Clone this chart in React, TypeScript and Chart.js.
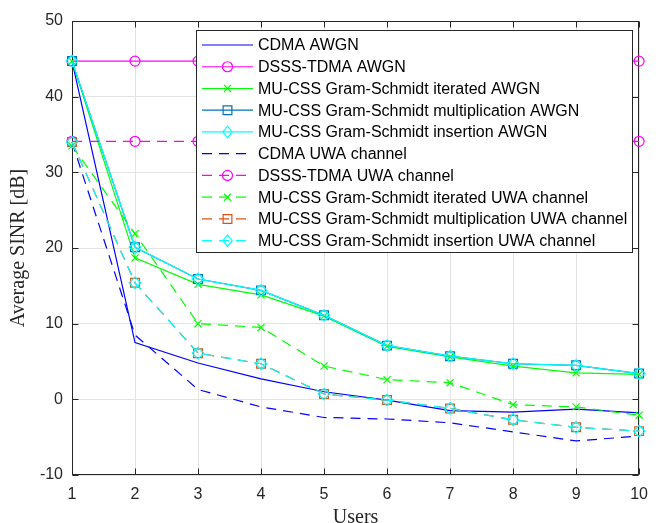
import React, { useEffect, useRef } from 'react';
import { Chart, registerables } from 'chart.js';

Chart.register(...registerables);

// ---- data ----
const users = ['1', '2', '3', '4', '5', '6', '7', '8', '9', '10'];
const yMin = -10;
const yMax = 50;
const yStep = 10;

const cdmaAwgn = [44.7, 7.5, 4.8, 2.7, 1.0, -0.1, -1.5, -1.7, -1.3, -1.8];
const dsssAwgn = [44.7, 44.7, 44.7, 44.7, 44.7, 44.7, 44.7, 44.7, 44.7, 44.7];
const gsIterAwgn = [44.7, 18.7, 15.2, 13.8, 11.0, 7.0, 5.6, 4.4, 3.5, 3.3];
const gsMultAwgn = [44.7, 20.1, 15.9, 14.4, 11.1, 7.1, 5.7, 4.7, 4.5, 3.4];
const gsInsAwgn = [44.7, 20.1, 15.9, 14.4, 11.1, 7.1, 5.7, 4.7, 4.5, 3.4];
const cdmaUwa = [34.0, 8.5, 1.3, -1.0, -2.4, -2.6, -3.1, -4.3, -5.5, -4.85];
const dsssUwa = [34.1, 34.1, 34.1, 34.1, 34.1, 34.1, 34.1, 34.1, 34.1, 34.1];
const gsIterUwa = [33.5, 21.9, 10.0, 9.5, 4.4, 2.6, 2.2, -0.7, -1.0, -2.1];
const gsMultUwa = [34.0, 15.4, 6.1, 4.7, 0.7, -0.1, -1.2, -2.7, -3.7, -4.2];
const gsInsUwa = [34.0, 15.4, 6.1, 4.7, 0.7, -0.1, -1.2, -2.7, -3.7, -4.2];

const seriesNames = [
  'CDMA AWGN',
  'DSSS-TDMA AWGN',
  'MU-CSS Gram-Schmidt iterated AWGN',
  'MU-CSS Gram-Schmidt multiplication AWGN',
  'MU-CSS Gram-Schmidt insertion AWGN',
  'CDMA UWA channel',
  'DSSS-TDMA UWA channel',
  'MU-CSS Gram-Schmidt iterated UWA channel',
  'MU-CSS Gram-Schmidt multiplication UWA channel',
  'MU-CSS Gram-Schmidt insertion UWA channel',
];
const seriesValues = [
  cdmaAwgn, dsssAwgn, gsIterAwgn, gsMultAwgn, gsInsAwgn,
  cdmaUwa, dsssUwa, gsIterUwa, gsMultUwa, gsInsUwa,
];
const seriesColors = [
  '#0000FF', '#FF00FF', '#00FF00', '#0072BD', '#00FFFF',
  '#0000FF', '#FF00FF', '#00FF00', '#D95319', '#00FFFF',
];
const seriesMarkers = [
  'none', 'circle', 'crossRot', 'rect', 'rectRot',
  'none', 'circle', 'crossRot', 'rect', 'rectRot',
];
const seriesDashed = [false, false, false, false, false, true, true, true, true, true];

// ---- style ----
const AXIS_COLOR = '#262626';
const GRID_COLOR = '#e3e3e3';
const SANS = '"Liberation Sans", Arial, Helvetica, sans-serif';
const SERIF = '"Liberation Serif", "Times New Roman", serif';
const DASH = [10, 7];
const LINE_W = 1.2;

const markerRadius = (m: string) =>
  m === 'circle' ? 5 : m === 'rect' ? 6.2 : m === 'rectRot' ? 5.8 : m === 'crossRot' ? 5 : 0;

function drawMarker(ctx: CanvasRenderingContext2D, style: string, x: number, y: number, r: number) {
  ctx.beginPath();
  if (style === 'circle') {
    ctx.arc(x, y, r, 0, Math.PI * 2);
  } else if (style === 'rect') {
    const s = r / Math.SQRT2;
    ctx.rect(x - s, y - s, 2 * s, 2 * s);
  } else if (style === 'rectRot') {
    ctx.moveTo(x - r * 0.8, y);
    ctx.lineTo(x, y + r);
    ctx.lineTo(x + r * 0.8, y);
    ctx.lineTo(x, y - r);
    ctx.closePath();
  } else if (style === 'crossRot') {
    const s = r / Math.SQRT2;
    ctx.moveTo(x - s, y - s);
    ctx.lineTo(x + s, y + s);
    ctx.moveTo(x + s, y - s);
    ctx.lineTo(x - s, y + s);
  }
  ctx.stroke();
}

const boxPlugin = {
  id: 'matlabBox',
  beforeDatasetsDraw(chart: any) {
    const { ctx, chartArea, scales } = chart;
    const l = Math.round(chartArea.left) + 0.5;
    const r = Math.round(chartArea.right) - 0.5;
    const t = Math.round(chartArea.top) + 0.5;
    const b = Math.round(chartArea.bottom) - 0.5;
    ctx.save();
    ctx.strokeStyle = AXIS_COLOR;
    ctx.lineWidth = 1;
    ctx.strokeRect(l, t, r - l, b - t);
    const tl = 6;
    ctx.beginPath();
    const xs = scales.x;
    for (let i = 0; i < xs.ticks.length; i++) {
      const px = Math.round(xs.getPixelForTick(i)) + 0.5;
      ctx.moveTo(px, b);
      ctx.lineTo(px, b - tl);
      ctx.moveTo(px, t);
      ctx.lineTo(px, t + tl);
    }
    const ys = scales.y;
    for (let i = 0; i < ys.ticks.length; i++) {
      const py = Math.round(ys.getPixelForTick(i)) + 0.5;
      ctx.moveTo(l, py);
      ctx.lineTo(l + tl, py);
      ctx.moveTo(r, py);
      ctx.lineTo(r - tl, py);
    }
    ctx.stroke();
    ctx.restore();
  },
};

const legendPlugin = {
  id: 'matlabLegend',
  afterDatasetsDraw(chart: any) {
    const { ctx } = chart;
    const bx = 196.5, by = 30.5, bw = 436, bh = 222;
    ctx.save();
    ctx.fillStyle = '#ffffff';
    ctx.fillRect(bx, by, bw, bh);
    ctx.strokeStyle = AXIS_COLOR;
    ctx.lineWidth = 1;
    ctx.strokeRect(bx, by, bw, bh);
    const rowH = 21.74;
    const y0 = 45;
    const lx0 = 202, lx1 = 253, tx = 258;
    ctx.font = '16px ' + SANS;
    ctx.textBaseline = 'middle';
    ctx.textAlign = 'left';
    chart.data.datasets.forEach((ds: any, i: number) => {
      const y = y0 + i * rowH;
      ctx.strokeStyle = ds.borderColor;
      ctx.lineWidth = LINE_W;
      ctx.setLineDash(ds.borderDash || []);
      ctx.beginPath();
      ctx.moveTo(lx0, y);
      ctx.lineTo(lx1, y);
      ctx.stroke();
      ctx.setLineDash([]);
      if (seriesMarkers[i] !== 'none') {
        drawMarker(ctx, seriesMarkers[i], (lx0 + lx1) / 2, y, markerRadius(seriesMarkers[i]));
      }
      ctx.fillStyle = '#000000';
      ctx.fillText(ds.label, tx, y + 1);
    });
    ctx.restore();
  },
};

export default function App() {
  const canvasRef = useRef<HTMLCanvasElement | null>(null);

  useEffect(() => {
    document.body.style.margin = '0';
    const canvas = canvasRef.current;
    if (!canvas) return;

    const datasets = seriesNames.map((name, i) => ({
      label: name,
      data: seriesValues[i],
      borderColor: seriesColors[i],
      backgroundColor: 'transparent',
      borderWidth: LINE_W,
      borderDash: seriesDashed[i] ? DASH : [],
      pointStyle: seriesMarkers[i] === 'none' ? 'circle' : seriesMarkers[i],
      pointRadius: markerRadius(seriesMarkers[i]),
      pointHoverRadius: markerRadius(seriesMarkers[i]),
      pointBorderColor: seriesColors[i],
      pointBackgroundColor: 'transparent',
      pointBorderWidth: LINE_W,
      tension: 0,
      fill: false,
      clip: false as any,
      order: seriesNames.length - i,
    }));

    const chart = new Chart(canvas, {
      type: 'line',
      data: { labels: users, datasets },
      options: {
        animation: false,
        responsive: false,
        maintainAspectRatio: false,
        devicePixelRatio: 1,
        layout: { padding: { top: 21, right: 12, left: 0, bottom: 0 } },
        plugins: {
          legend: { display: false },
          tooltip: { enabled: false },
        },
        scales: {
          x: {
            type: 'category',
            offset: false,
            grid: { color: GRID_COLOR, drawTicks: false, offset: false },
            border: { display: false },
            ticks: {
              color: AXIS_COLOR,
              font: { family: SANS, size: 16 },
              padding: 10,
              maxRotation: 0,
              autoSkip: false,
            },
            title: {
              display: true,
              text: 'Users',
              color: AXIS_COLOR,
              font: { family: SERIF, size: 20 },
              padding: { top: 0, bottom: -7 },
            },
            afterFit: (s: any) => {
              s.height = 48;
            },
          },
          y: {
            type: 'linear',
            min: yMin,
            max: yMax,
            grid: { color: GRID_COLOR, drawTicks: false },
            border: { display: false },
            ticks: {
              stepSize: yStep,
              color: AXIS_COLOR,
              font: { family: SANS, size: 16 },
              padding: 9,
            },
            title: {
              display: true,
              text: 'Average SINR [dB]',
              color: AXIS_COLOR,
              font: { family: SERIF, size: 20 },
              padding: { top: 7, bottom: 0 },
            },
            afterFit: (s: any) => {
              s.width = 72;
            },
          },
        },
      },
      plugins: [boxPlugin, legendPlugin],
    });

    return () => {
      chart.destroy();
    };
  }, []);

  return (
    <div style={{ position: 'absolute', left: 0, top: 0, width: 658, height: 523, background: '#fff' }}>
      <canvas ref={canvasRef} width={658} height={523} style={{ display: 'block' }} />
    </div>
  );
}
